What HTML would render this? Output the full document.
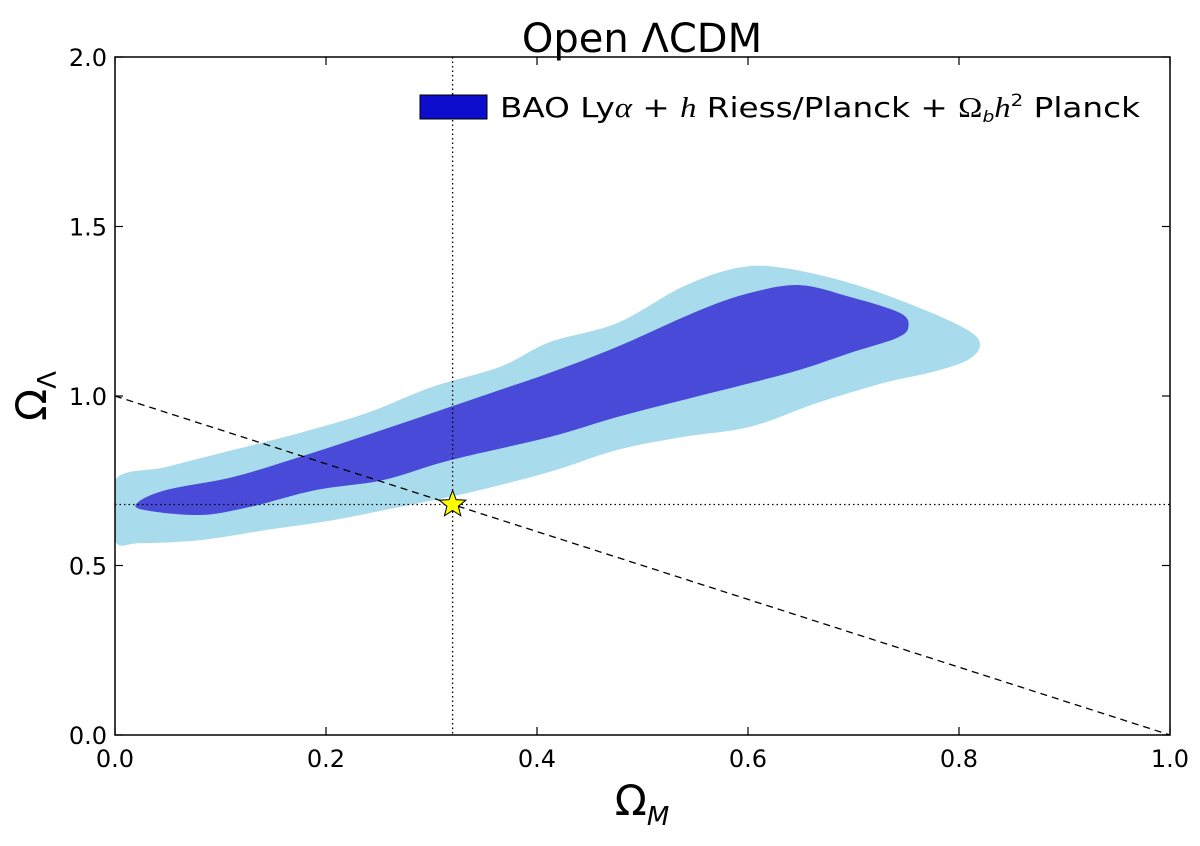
<!DOCTYPE html>
<html><head><meta charset="utf-8"><style>
body{margin:0;background:#fff}
svg text{font-family:"DejaVu Sans","Liberation Sans",sans-serif}
</style></head><body>
<svg id="chart" width="1200" height="841" xmlns="http://www.w3.org/2000/svg">
<text x="642" y="52" font-size="40" text-anchor="middle">Open ΛCDM</text>
<g id="plot"></g>
</svg>
<script>
const outerOm=[.000,.049,.112,.175,.239,.301,.365,.412,.476,.538,.590,.633,.697,.760,.808,.820,.808,.775,.728,.665,.602,.538,.476,.412,.334,.270,.207,.144,.081,.024,.000];
const outerOL=[.752,.791,.841,.891,.950,1.027,1.086,1.159,1.215,1.322,1.378,1.378,1.333,1.263,1.195,1.150,1.106,1.071,1.038,.979,.909,.879,.841,.776,.714,.673,.634,.605,.575,.566,.575];
const innerOm=[.022,.049,.112,.175,.239,.301,.365,.412,.476,.555,.602,.649,.697,.744,.752,.741,.697,.649,.602,.538,.476,.412,.318,.254,.191,.128,.081,.027];
const innerOL=[.687,.723,.761,.820,.885,.950,1.018,1.068,1.145,1.254,1.304,1.327,1.292,1.245,1.204,1.171,1.127,1.077,1.038,.988,.938,.879,.811,.752,.723,.673,.649,.664];
const xTicks=[0,0.2,0.4,0.6,0.8,1.0];
const xTickLabels=["0.0","0.2","0.4","0.6","0.8","1.0"];
const yTicks=[0,0.5,1.0,1.5,2.0];
const yTickLabels=["0.0","0.5","1.0","1.5","2.0"];
const bestFitOm=[0.32];
const bestFitOL=[0.68];
const L=115,R=1170,T=57,B=735;
const X=v=>L+v*(R-L)/1.0;
const Y=v=>B-v*(B-T)/2.0;
const NS="http://www.w3.org/2000/svg";
const g=document.getElementById('plot');
function mk(tag,attrs,parent){const e=document.createElementNS(NS,tag);for(const k in attrs)e.setAttribute(k,attrs[k]);(parent||g).appendChild(e);return e;}
function smooth(a,b){
 const p=a.map((v,i)=>[X(v),Y(b[i])]);const n=p.length;let d='M'+p[0][0].toFixed(1)+','+p[0][1].toFixed(1);
 for(let i=0;i<n;i++){const p0=p[(i-1+n)%n],p1=p[i],p2=p[(i+1)%n],p3=p[(i+2)%n];
  const c1=[p1[0]+(p2[0]-p0[0])/6,p1[1]+(p2[1]-p0[1])/6],c2=[p2[0]-(p3[0]-p1[0])/6,p2[1]-(p3[1]-p1[1])/6];
  d+=' C'+c1.map(v=>v.toFixed(1)).join(',')+' '+c2.map(v=>v.toFixed(1)).join(',')+' '+p2[0].toFixed(1)+','+p2[1].toFixed(1);}
 return d+'Z';}
let e;
e=mk('clipPath',{id:'clip'});mk('rect',{x:L,y:T,width:R-L,height:B-T},e);
e=mk('path',{d:smooth(outerOm,outerOL),fill:'#a8dbec','clip-path':'url(#clip)'});


e=mk('path',{d:smooth(innerOm,innerOL),fill:'#494bd8'});


e=mk('line',{x1:X(0),y1:Y(1),x2:X(1),y2:Y(0),stroke:'#000','stroke-width':1.3,'stroke-dasharray':'7,5'});


e=mk('line',{x1:X(bestFitOm[0]),y1:T,x2:X(bestFitOm[0]),y2:B,stroke:'#000','stroke-width':1.3,'stroke-dasharray':'1.5,3'});


e=mk('line',{x1:L,y1:Y(bestFitOL[0]),x2:R,y2:Y(bestFitOL[0]),stroke:'#000','stroke-width':1.3,'stroke-dasharray':'1.5,3'});


{const cx=X(bestFitOm[0]),cy=Y(bestFitOL[0]);let p=[];for(let i=0;i<10;i++){const r=i%2?6:14,a=-Math.PI/2+i*Math.PI/5;p.push((cx+r*Math.cos(a)).toFixed(1)+','+(cy+r*Math.sin(a)).toFixed(1));}
e=mk('polygon',{points:p.join(' '),fill:'#ffff00',stroke:'#000','stroke-width':1});

}
e=mk('rect',{x:L,y:T,width:R-L,height:B-T,fill:'none',stroke:'#000','stroke-width':1.5});


xTicks.forEach((v,i)=>{
 e=mk('line',{x1:X(v),y1:B,x2:X(v),y2:B-8,stroke:'#000','stroke-width':1.2});
 
 
 e=mk('line',{x1:X(v),y1:T,x2:X(v),y2:T+8,stroke:'#000','stroke-width':1.2});
 
 
 e=mk('text',{x:X(v),y:B+32,'font-size':24,'text-anchor':'middle'});e.textContent=xTickLabels[i];
 
 
});
yTicks.forEach((v,i)=>{
 e=mk('line',{x1:L,y1:Y(v),x2:L+8,y2:Y(v),stroke:'#000','stroke-width':1.2});
 
 
 e=mk('line',{x1:R,y1:Y(v),x2:R-8,y2:Y(v),stroke:'#000','stroke-width':1.2});
 
 
 e=mk('text',{x:L-8,y:Y(v)+9,'font-size':24,'text-anchor':'end'});e.textContent=yTickLabels[i];
 
 
});
e=mk('text',{x:642,y:815,'font-size':42,'text-anchor':'middle','font-family':'"Liberation Serif",serif'});
e.innerHTML='Ω<tspan font-size="26" font-style="italic" dy="10">M</tspan>';


e=mk('text',{x:0,y:0,'font-size':42,'text-anchor':'middle','font-family':'"Liberation Serif",serif',transform:'translate(46,396) rotate(-90)'});
e.innerHTML='Ω<tspan font-size="26" dy="10">Λ</tspan>';


e=mk('rect',{x:420,y:95,width:67,height:24,fill:'#0c0ccc',stroke:'#000','stroke-width':1});


e=mk('text',{x:500,y:117,'font-size':28,textLength:640,lengthAdjust:'spacingAndGlyphs'});
e.innerHTML='BAO Ly<tspan font-style="italic" font-family="Liberation Serif,serif">α</tspan> + <tspan font-style="italic" font-family="Liberation Serif,serif">h</tspan> Riess/Planck + <tspan font-family="Liberation Serif,serif">Ω</tspan><tspan font-size="16" font-style="italic" dy="5">b</tspan><tspan font-style="italic" font-family="Liberation Serif,serif" dy="-5">h</tspan><tspan font-size="17" dy="-11">2</tspan><tspan dy="11">   Planck</tspan>';


</script>
</body></html>
